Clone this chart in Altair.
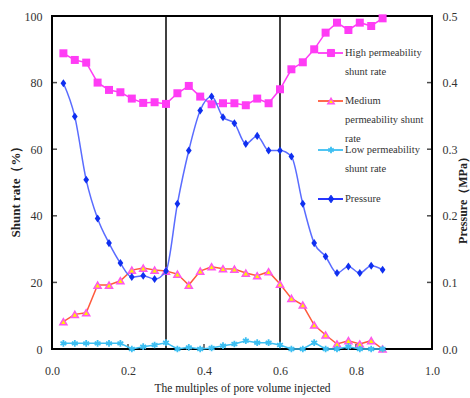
import altair as alt
import pandas as pd

# pore volume multiples (x)
PV = [0.03, 0.06, 0.09, 0.12, 0.15, 0.18, 0.21, 0.24, 0.27, 0.30,
      0.33, 0.36, 0.39, 0.42, 0.45, 0.48, 0.51, 0.54, 0.57, 0.60,
      0.63, 0.66, 0.69, 0.72, 0.75, 0.78, 0.81, 0.84, 0.87]
HIGH = [88.8, 86.8, 86.0, 80.0, 77.8, 77.1, 75.2, 73.9, 74.1, 73.6,
        76.8, 79.0, 75.8, 73.5, 73.8, 73.8, 73.2, 75.2, 73.8, 78.0,
        84.0, 86.1, 90.0, 95.0, 98.0, 95.8, 98.0, 97.0, 99.3]
MED = [8.2, 10.4, 10.9, 19.2, 19.2, 20.5, 23.7, 24.3, 23.7, 23.4,
       22.5, 19.2, 23.4, 24.7, 24.1, 24.0, 22.8, 22.0, 23.2, 19.5,
       15.2, 13.2, 7.2, 4.2, 1.5, 2.5, 1.5, 2.5, 0.0]
LOW = [1.7, 1.7, 1.7, 1.7, 1.7, 1.7, 0.0, 0.7, 1.2, 1.9,
       0.0, 0.5, 0.0, 0.3, 1.0, 1.5, 2.5, 1.9, 1.9, 1.2,
       0.0, 0.0, 1.9, 0.0, 0.0, 0.7, 0.0, 0.0, 0.0]
PRESS = [0.399, 0.349, 0.254, 0.196, 0.159, 0.129, 0.108, 0.110, 0.105, 0.117,
         0.218, 0.298, 0.358, 0.379, 0.348, 0.339, 0.308, 0.320, 0.298, 0.298,
         0.289, 0.218, 0.159, 0.139, 0.114, 0.124, 0.114, 0.125, 0.119]
STAGES = [0.3, 0.6]
X_TICKS = [0.0, 0.2, 0.4, 0.6, 0.8, 1.0]
L_TICKS = [0, 20, 40, 60, 80, 100]
R_TICKS = [0.0, 0.1, 0.2, 0.3, 0.4, 0.5]

LEG_LABELS = [
    ["High permeability", "shunt rate"],
    ["Medium", "permeability  shunt", "rate"],
    ["Low permeability", "shunt rate"],
    ["Pressure"],
]

FONT = "'Liberation Serif', 'Times New Roman', Times, serif"
C_HIGH = "#FF3CF5"
C_MED = "#FF5A3C"
C_LOW = "#3DBFF2"
C_PL = "#5A6CFF"
C_PM = "#0F2FF0"
ASTER = "M0,-1L0,1M-0.87,-0.5L0.87,0.5M-0.87,0.5L0.87,-0.5"
DIAM = "M0,-1.2L0.85,0L0,1.2L-0.85,0Z"

df = pd.DataFrame({"pv": PV, "high": HIGH, "med": MED, "low": LOW, "press": PRESS})
stages = pd.DataFrame({"pv": STAGES})
dummy = pd.DataFrame({"a": [0]})

xenc = alt.X("pv:Q", scale=alt.Scale(domain=[0, 1]),
             axis=alt.Axis(values=X_TICKS, format=".1f", title="The multiples of pore volume injected",
                           grid=False, ticks=False, tickSize=0, domain=False, labelPadding=16,
                           labelFlush=False,
                           labelFont=FONT, labelFontSize=12, labelColor="#333",
                           titleFont=FONT, titleFontSize=11.5, titleFontWeight="normal", titleColor="#222",
                           titleX=190, titleY=39, titleBaseline="middle"))
laxis = alt.Axis(values=L_TICKS, title="Shunt rate（%）", grid=False, ticks=False, tickSize=0,
                 domain=False, labelPadding=10, labelFlush=False,
                 labelFont=FONT, labelFontSize=12, labelColor="#333",
                 titleFont=FONT, titleFontSize=13, titleFontWeight="bold", titleColor="#222",
                 titleX=-37, titleY=172, titleAngle=270, titleBaseline="middle", titleAlign="center")
raxis = alt.Axis(values=R_TICKS, format=".1f", title="Pressure（MPa）", orient="right", grid=False,
                 ticks=False, tickSize=0, domain=False, labelPadding=10, labelFlush=False,
                 labelFont=FONT, labelFontSize=12, labelColor="#333",
                 titleFont=FONT, titleFontSize=12, titleFontWeight="bold", titleColor="#222",
                 titleX=30, titleY=181, titleAngle=270, titleBaseline="middle", titleAlign="center")
ls = alt.Scale(domain=[0, 100])
rs = alt.Scale(domain=[0, 0.5])

base = alt.Chart(df)


def ly(field):
    return alt.Y(f"{field}:Q", scale=ls, axis=laxis)


rules = alt.Chart(stages).mark_rule(color="black", strokeWidth=1.5).encode(x=xenc)

# inward tick marks
xt = alt.Chart(pd.DataFrame({"pv": X_TICKS[1:-1]})).mark_tick(
    orient="vertical", size=5, thickness=1.5, color="black").encode(x=xenc, y=alt.value(330.5))
lt = alt.Chart(pd.DataFrame({"high": L_TICKS[1:-1]})).mark_tick(
    orient="horizontal", size=5, thickness=1.5, color="black").encode(y=ly("high"), x=alt.value(2.5))

layers = [rules, xt, lt]
# high
layers.append(base.mark_line(color=C_HIGH, strokeWidth=1.5).encode(x=xenc, y=ly("high")))
layers.append(base.mark_point(shape="square", filled=True, color=C_HIGH, size=64, opacity=1)
              .encode(x=xenc, y=ly("high")))
# medium
layers.append(base.mark_line(color=C_MED, strokeWidth=1.5).encode(x=xenc, y=ly("med")))
layers.append(base.mark_point(shape="triangle-up", filled=True, fill="#FFF200", stroke="#FF55EE",
                              strokeWidth=1.5, size=50, opacity=1).encode(x=xenc, y=ly("med")))
# low
layers.append(base.mark_line(color=C_LOW, strokeWidth=1.5).encode(x=xenc, y=ly("low")))
layers.append(base.mark_point(shape=ASTER, filled=False, color=C_LOW, strokeWidth=1.8, size=45,
                              opacity=1).encode(x=xenc, y=ly("low")))

# manual legend
leg_y = [37, 85, 134, 183]
line_h = 19
lx0, lx1, mx, tx = 266, 291, 279, 293
leg_style = [
    dict(color=C_HIGH, shape="square", fill=C_HIGH, stroke=C_HIGH, size=50, sw=1),
    dict(color=C_MED, shape="triangle-up", fill="#FFF200", stroke="#FF55EE", size=40, sw=1.5),
    dict(color=C_LOW, shape=ASTER, fill=None, stroke=C_LOW, size=40, sw=1.8),
    dict(color="#1020FF", shape=DIAM, fill=C_PM, stroke=C_PM, size=40, sw=1),
]
for i, (labels, st) in enumerate(zip(LEG_LABELS, leg_style)):
    yy = leg_y[i]
    layers.append(alt.Chart(dummy).mark_rule(color=st["color"], strokeWidth=1.8)
                  .encode(x=alt.value(lx0), x2=alt.value(lx1), y=alt.value(yy)))
    pkw = dict(shape=st["shape"], stroke=st["stroke"], strokeWidth=st["sw"], size=st["size"], opacity=1)
    if st["fill"]:
        pkw.update(filled=True, fill=st["fill"])
    else:
        pkw.update(filled=False)
    layers.append(alt.Chart(dummy).mark_point(**pkw).encode(x=alt.value(mx), y=alt.value(yy)))
    for j, t in enumerate(labels):
        layers.append(alt.Chart(dummy).mark_text(text=t, font=FONT, fontSize=10.5, color="#333",
                                                 align="left", baseline="middle")
                      .encode(x=alt.value(tx), y=alt.value(yy + j * line_h)))

left = alt.layer(*layers)

ryenc = alt.Y("press:Q", scale=rs, axis=raxis)
rt = alt.Chart(pd.DataFrame({"press": R_TICKS[1:-1]})).mark_tick(
    orient="horizontal", size=5, thickness=1.5, color="black").encode(y=ryenc, x=alt.value(377.5))

right = alt.layer(
    rt,
    base.mark_line(color=C_PL, strokeWidth=1.5, interpolate="monotone").encode(x=xenc, y=ryenc),
    base.mark_point(shape=DIAM, filled=True, color=C_PM, size=45, opacity=1).encode(x=xenc, y=ryenc),
)

chart = alt.layer(left, right).resolve_scale(y="independent").properties(
    width=380, height=333,
    padding={"left": 52, "top": 16, "right": 38, "bottom": 49},
    autosize=alt.AutoSizeParams(type="none"),
    background="white",
).configure_view(stroke="black", strokeWidth=2)

chart.save("out.html", embed_options={"renderer": "svg", "actions": False})
